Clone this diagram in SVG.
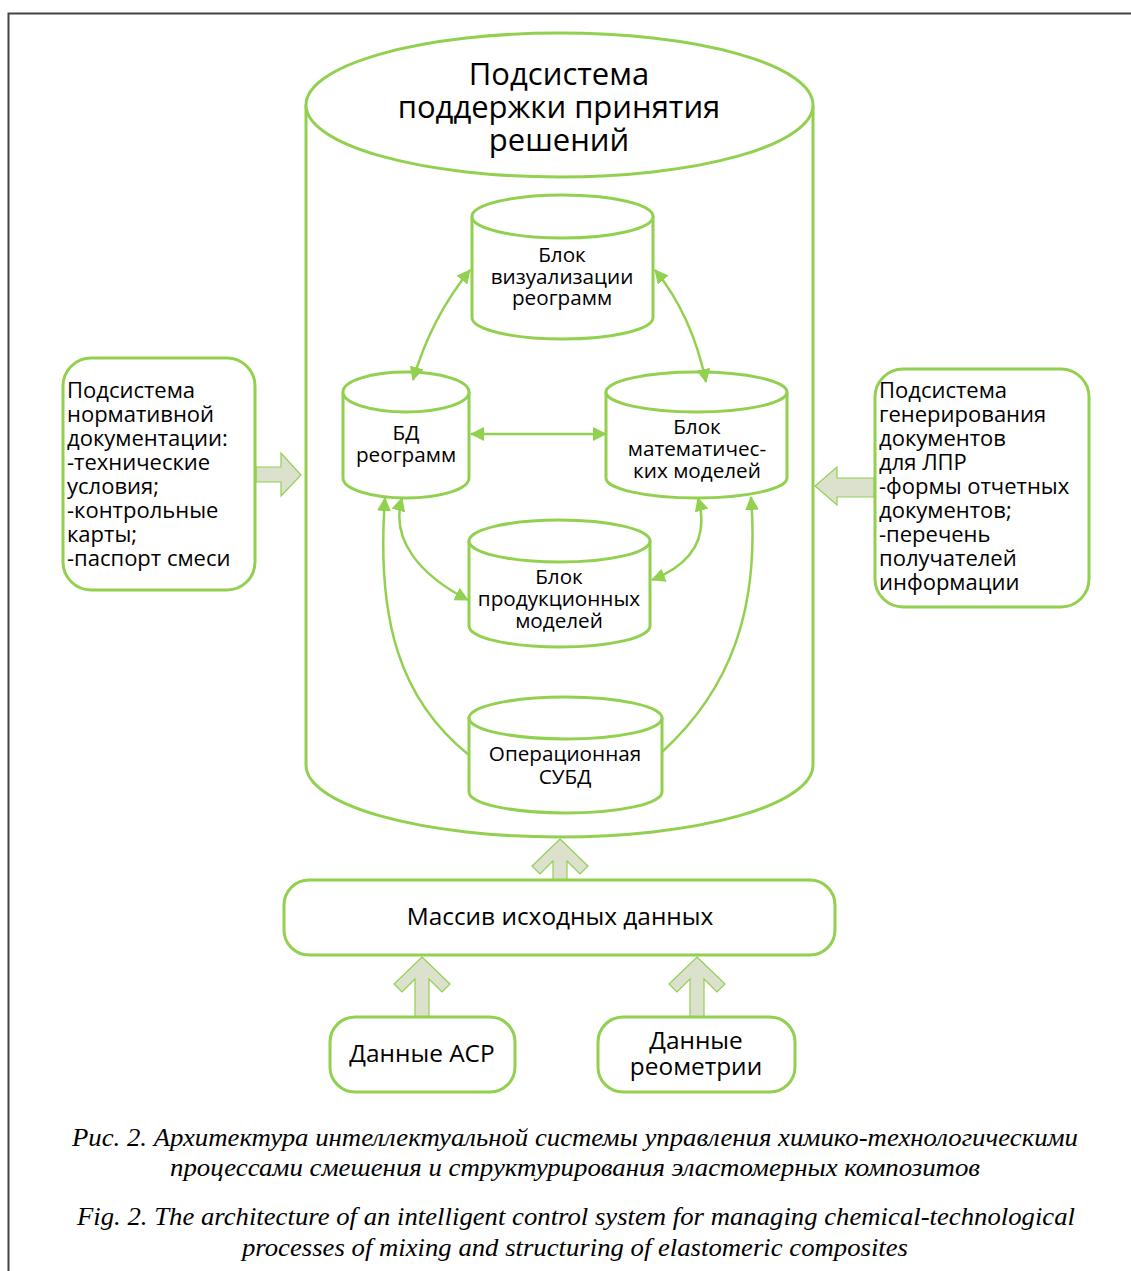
<svg xmlns="http://www.w3.org/2000/svg" width="1131" height="1271" viewBox="0 0 1131 1271">
<style>
.g{fill:#fff;stroke:#92d050;stroke-width:3}
.c{fill:none;stroke:#92d050;stroke-width:2.5}
.ba{fill:#dbe1cc;stroke:#92d050;stroke-width:1.2}
.t{font-family:"Open Sans","Noto Sans",sans-serif;fill:#000}
.m{text-anchor:middle}
.s{font-size:20.7px}
.b{font-size:22px}
.l{font-size:24.4px}
.cap{font-family:"Liberation Serif",serif;font-style:italic;font-size:26px;text-anchor:middle;fill:#000}
</style>
<defs>
<marker id="ah" viewBox="0 0 14 14" refX="13" refY="7" markerWidth="14" markerHeight="14" markerUnits="userSpaceOnUse" orient="auto-start-reverse">
<path d="M0,0 L14,7 L0,14 z" fill="#92d050"/>
</marker>
</defs>
<rect width="1131" height="1271" fill="#fff"/>
<path d="M8.5,1271 L8.5,13.5 L1131,13.5" fill="none" stroke="#444" stroke-width="2"/>

<g id="main">
<path class="g" d="M306,105 L306,765 A253.5,72 0 0 0 813,765 L813,105"/>
<ellipse class="g" cx="559.5" cy="105" rx="253.5" ry="72"/>
<text class="t m" font-size="31" x="559" y="85">Подсистема</text>
<text class="t m" font-size="31" x="559" y="118">поддержки принятия</text>
<text class="t m" font-size="31" x="559" y="151">решений</text>
</g>

<g id="viz">
<path class="g" d="M472,216.5 L472,317.5 A90.5,21.5 0 0 0 653,317.5 L653,216.5"/>
<ellipse class="g" cx="562.5" cy="216.5" rx="90.5" ry="21.5"/>
<text class="t m s" x="562" y="262">Блок</text>
<text class="t m s" x="562" y="284">визуализации</text>
<text class="t m s" x="562" y="305">реограмм</text>
</g>

<g id="bd">
<path class="g" d="M343,392 L343,478 A63,20 0 0 0 469,478 L469,392"/>
<ellipse class="g" cx="406" cy="392" rx="63" ry="20"/>
<text class="t m s" x="406" y="440">БД</text>
<text class="t m s" x="406" y="462">реограмм</text>
</g>

<g id="math">
<path class="g" d="M606,392 L606,478 A90.5,20 0 0 0 787,478 L787,392"/>
<ellipse class="g" cx="696.5" cy="392" rx="90.5" ry="20"/>
<text class="t m s" x="697" y="434">Блок</text>
<text class="t m s" x="697" y="456">математичес-</text>
<text class="t m s" x="697" y="478">ких моделей</text>
</g>

<g id="prod">
<path class="g" d="M469,541 L469,626 A90.5,21 0 0 0 650,626 L650,541"/>
<ellipse class="g" cx="559.5" cy="541" rx="90.5" ry="21"/>
<text class="t m s" x="559" y="584">Блок</text>
<text class="t m s" x="559" y="606">продукционных</text>
<text class="t m s" x="559" y="628">моделей</text>
</g>

<g id="subd">
<path class="g" d="M469,718 L469,792 A96.5,21 0 0 0 662,792 L662,718"/>
<ellipse class="g" cx="565.5" cy="718" rx="96.5" ry="21"/>
<text class="t m s" x="565" y="761">Операционная</text>
<text class="t m s" x="565" y="784">СУБД</text>
</g>

<g id="connectors">
<path class="c" d="M413,380 Q431,318 470,270" marker-start="url(#ah)" marker-end="url(#ah)"/>
<path class="c" d="M655,270 Q692,315 706,382" marker-start="url(#ah)" marker-end="url(#ah)"/>
<path class="c" d="M471,434 L606,434" marker-start="url(#ah)" marker-end="url(#ah)"/>
<path class="c" d="M402,498 C390,540 420,575 468,600" marker-start="url(#ah)" marker-end="url(#ah)"/>
<path class="c" d="M698,498 C710,540 690,565 652,580" marker-start="url(#ah)" marker-end="url(#ah)"/>
<path class="c" d="M469,755 C400,700 376,620 385,498" marker-end="url(#ah)"/>
<path class="c" d="M662,752 C730,690 760,610 751,497" marker-end="url(#ah)"/>
<polygon class="ba" points="256,467 281,467 281,453 301,475 281,496 281,482 256,482"/>
<polygon class="ba" points="874,478 837,478 837,467 815,486 837,505 837,497 874,497"/>
<polygon class="ba" points="560,839 588,866 580,874 567,861 567,880 553,880 553,861 540,874 532,866"/>
<polygon class="ba" points="422,957 450,984 442,992 429,979 429,1017 415,1017 415,979 402,992 394,984"/>
<polygon class="ba" points="697,957 725,984 717,992 704,979 704,1017 690,1017 690,979 677,992 669,984"/>
</g>

<g id="norm">
<rect class="g" x="63" y="358" width="192" height="232" rx="28"/>
<text class="t b">
<tspan x="67" y="398">Подсистема</tspan>
<tspan x="67" y="422">нормативной</tspan>
<tspan x="67" y="446">документации:</tspan>
<tspan x="67" y="470">-технические</tspan>
<tspan x="67" y="494">условия;</tspan>
<tspan x="67" y="518">-контрольные</tspan>
<tspan x="67" y="542">карты;</tspan>
<tspan x="67" y="566">-паспорт смеси</tspan>
</text>
</g>

<g id="gen">
<rect class="g" x="875" y="369" width="214" height="238" rx="28"/>
<text class="t b">
<tspan x="879" y="398">Подсистема</tspan>
<tspan x="879" y="422">генерирования</tspan>
<tspan x="879" y="446">документов</tspan>
<tspan x="879" y="470">для ЛПР</tspan>
<tspan x="879" y="494">-формы отчетных</tspan>
<tspan x="879" y="518">документов;</tspan>
<tspan x="879" y="542">-перечень</tspan>
<tspan x="879" y="566">получателей</tspan>
<tspan x="879" y="590">информации</tspan>
</text>
</g>

<g id="massiv">
<rect class="g" x="284" y="880" width="551" height="75" rx="25"/>
<text class="t m l" x="560" y="925">Массив исходных данных</text>
</g>

<g id="acr">
<rect class="g" x="330" y="1017" width="185" height="75" rx="25"/>
<text class="t m l" x="422" y="1062">Данные АСР</text>
</g>

<g id="reo">
<rect class="g" x="598" y="1017" width="197" height="75" rx="25"/>
<text class="t m l" x="696" y="1049">Данные</text>
<text class="t m l" x="696" y="1075">реометрии</text>
</g>

<g id="caption">
<text class="cap" x="575" y="1146" textLength="1006" lengthAdjust="spacingAndGlyphs">Рис. 2. Архитектура интеллектуальной системы управления химико-технологическими</text>
<text class="cap" x="575" y="1176" textLength="810" lengthAdjust="spacingAndGlyphs">процессами смешения и структурирования эластомерных композитов</text>
<text class="cap" x="576" y="1225" textLength="998" lengthAdjust="spacingAndGlyphs">Fig. 2. The architecture of an intelligent control system for managing chemical-technological</text>
<text class="cap" x="575" y="1256" textLength="666" lengthAdjust="spacingAndGlyphs">processes of mixing and structuring of elastomeric composites</text>
</g>
</svg>
